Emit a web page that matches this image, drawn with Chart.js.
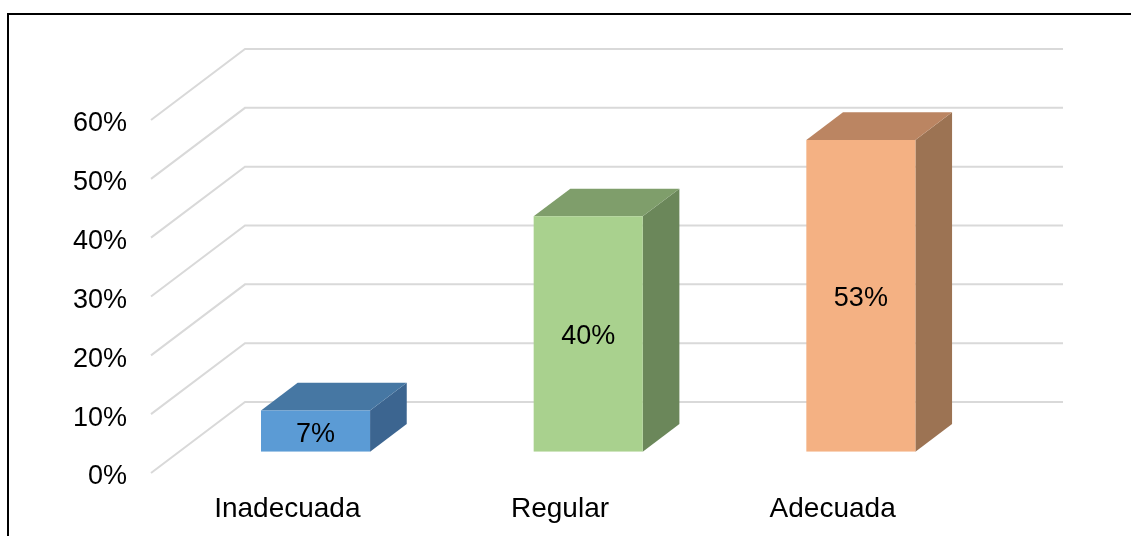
<!DOCTYPE html>
<html lang="es">
<head>
    <meta charset="UTF-8">
    <title>Inadecuada / Regular / Adecuada</title>
    <script src="https://cdnjs.cloudflare.com/ajax/libs/Chart.js/4.4.1/chart.umd.min.js"></script>
    <style>
        html, body {
            margin: 0;
            padding: 0;
            background: #fff;
            overflow: hidden;
        }
        .frame {
            position: absolute;
            left: 7px;
            top: 13px;
            width: 1160px;
            height: 560px;
            border: 2px solid #000;
        }
        .chart-box {
            position: absolute;
            left: 0;
            top: 0;
            width: 1131px;
            height: 536px;
        }
    </style>
</head>
<body>
    <div class="frame"></div>
    <div class="chart-box">
        <canvas id="nivelChart" width="1131" height="536"></canvas>
    </div>

    <script>
        // Data
        const categories = ['Inadecuada', 'Regular', 'Adecuada'];
        const percentages = [7, 40, 53];
        const frontColors = ['#5b9bd5', '#a9d18e', '#f4b183'];
        const topColors = ['#4677a3', '#7f9e6b', '#bb8562'];
        const sideColors = ['#3c6590', '#6b875a', '#9c7353'];

        // Oblique depth of the floor / back wall, and where the bars sit inside it
        const DEPTH_X = 94;
        const DEPTH_Y = -71;
        const BAR_SHIFT = 0.3;
        const BAR_DEPTH = 0.39;

        const fontFamily = '"Liberation Sans", Arial, sans-serif';
        const labelFont = '27px ' + fontFamily;

        const box3d = {
            id: 'box3d',
            beforeDatasetsDraw(chart) {
                const ctx = chart.ctx;
                const { left, right } = chart.chartArea;
                const yScale = chart.scales.y;

                // back wall grid lines with their diagonal returns
                ctx.save();
                ctx.strokeStyle = '#d9d9d9';
                ctx.lineWidth = 2;
                yScale.ticks.forEach((t, i) => {
                    const py = yScale.getPixelForTick(i);
                    ctx.beginPath();
                    ctx.moveTo(left, py);
                    ctx.lineTo(left + DEPTH_X, py + DEPTH_Y);
                    ctx.lineTo(right + DEPTH_X, py + DEPTH_Y);
                    ctx.stroke();
                });
                ctx.restore();

                // move the bars back into the floor, draw tops and sides,
                // then let Chart.js draw the front faces in the same space
                ctx.save();
                ctx.translate(BAR_SHIFT * DEPTH_X, BAR_SHIFT * DEPTH_Y);
                const ex = BAR_DEPTH * DEPTH_X;
                const ey = BAR_DEPTH * DEPTH_Y;
                chart.getDatasetMeta(0).data.forEach((bar, i) => {
                    const { x, y, base, width } = bar.getProps(['x', 'y', 'base', 'width'], true);
                    const l = x - width / 2;
                    const r = x + width / 2;

                    ctx.fillStyle = sideColors[i];
                    ctx.beginPath();
                    ctx.moveTo(r, y);
                    ctx.lineTo(r + ex, y + ey);
                    ctx.lineTo(r + ex, base + ey);
                    ctx.lineTo(r, base);
                    ctx.closePath();
                    ctx.fill();

                    ctx.fillStyle = topColors[i];
                    ctx.beginPath();
                    ctx.moveTo(l, y);
                    ctx.lineTo(r, y);
                    ctx.lineTo(r + ex, y + ey);
                    ctx.lineTo(l + ex, y + ey);
                    ctx.closePath();
                    ctx.fill();
                });
            },
            afterDatasetsDraw(chart) {
                const ctx = chart.ctx;
                // value labels centred on the front faces (still translated)
                ctx.fillStyle = '#000';
                ctx.font = labelFont;
                ctx.textAlign = 'center';
                ctx.textBaseline = 'middle';
                chart.getDatasetMeta(0).data.forEach((bar, i) => {
                    const { x, y, base } = bar.getProps(['x', 'y', 'base'], true);
                    ctx.fillText(percentages[i] + '%', x, (y + base) / 2 + 3);
                });
                ctx.restore();
            }
        };

        const ctx = document.getElementById('nivelChart').getContext('2d');
        new Chart(ctx, {
            type: 'bar',
            data: {
                labels: categories,
                datasets: [{
                    data: percentages,
                    backgroundColor: frontColors,
                    borderWidth: 0,
                    barPercentage: 0.4,
                    categoryPercentage: 1
                }]
            },
            options: {
                responsive: false,
                animation: false,
                events: [],
                layout: {
                    padding: { left: 0, right: 162, top: 120, bottom: 0 }
                },
                plugins: {
                    legend: { display: false },
                    tooltip: { enabled: false }
                },
                scales: {
                    x: {
                        grid: { display: false, drawTicks: false },
                        border: { display: false },
                        ticks: {
                            color: '#000',
                            padding: 19,
                            font: { family: fontFamily, size: 28 }
                        },
                        afterFit(scale) { scale.height = 63; }
                    },
                    y: {
                        min: 0,
                        max: 60,
                        grid: { display: false, drawTicks: false },
                        border: { display: false },
                        ticks: {
                            stepSize: 10,
                            color: '#000',
                            padding: 24,
                            labelOffset: 4,
                            font: { family: fontFamily, size: 27 },
                            callback: v => v + '%'
                        },
                        afterFit(scale) { scale.width = 151; }
                    }
                }
            },
            plugins: [box3d]
        });
    </script>
</body>
</html>
